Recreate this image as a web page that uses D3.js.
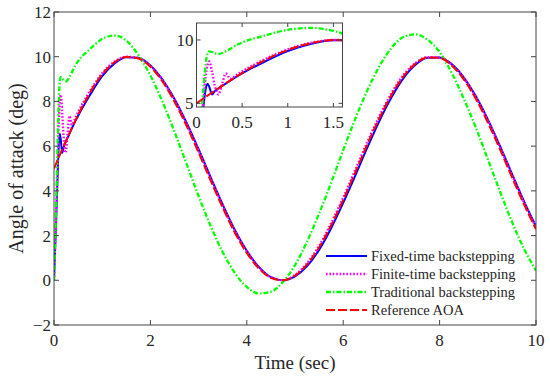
<!DOCTYPE html>
<html>
<head>
<meta charset="utf-8">
<script src="https://cdn.jsdelivr.net/npm/d3@7"></script>
<style>
  body { margin: 0; background: #fff; }
  svg { display: block; }
  text { font-family: "Liberation Serif", "Times New Roman", serif; fill: #262626; }
</style>
</head>
<body>
<div id="chart"></div>
<script>
    // time samples (sec), denser at the start to catch the transients
    var timeSec = [0, 0.04, 0.08, 0.1, 0.12, 0.14, 0.17, 0.2, 0.24, 0.28, 0.32, 0.37, 0.44, 0.5,
        0.75, 1, 1.25, 1.5, 1.75, 2, 2.25, 2.5, 2.75, 3, 3.25, 3.5, 3.75, 4, 4.25, 4.5, 4.75,
        5, 5.25, 5.5, 5.75, 6, 6.25, 6.5, 6.75, 7, 7.25, 7.5, 7.75, 8, 8.25, 8.5, 8.75,
        9, 9.25, 9.5, 9.75, 10];

    var fixedTime = [0, 2.4, 5.0, 6.1, 6.55, 6.3, 5.7, 5.95, 6.17, 6.36, 6.55, 6.79, 7.11, 7.36,
        8.30, 9.13, 9.69, 9.98, 9.95, 9.61, 8.98, 8.11, 7.05, 5.86, 4.61, 3.39, 2.26, 1.32, 0.60, 0.14, 0.00,
        0.17, 0.63, 1.36, 2.33, 3.46, 4.68, 5.93, 7.12, 8.17, 9.04, 9.64, 9.95, 9.97, 9.67, 9.08, 8.24,
        7.20, 6.02, 4.77, 3.54, 2.41];

    var finiteTime = [0, 2.6, 5.6, 7.1, 8.0, 8.3, 7.5, 6.4, 5.7, 6.5, 7.35, 6.95, 7.25, 7.52,
        8.48, 9.26, 9.77, 10.00, 9.94, 9.59, 8.95, 8.07, 7.00, 5.81, 4.56, 3.34, 2.22, 1.29, 0.57, 0.13, 0.00,
        0.24, 0.76, 1.54, 2.55, 3.70, 4.93, 6.18, 7.34, 8.36, 9.18, 9.72, 9.98, 9.96, 9.65, 9.05, 8.20,
        7.15, 5.97, 4.72, 3.49, 2.36];

    var traditional = [0, 3.0, 6.6, 8.1, 8.9, 9.1, 9.05, 8.95, 8.9, 8.95, 9.1, 9.3, 9.6, 9.8,
        10.35, 10.8, 10.95, 10.72, 10.08, 9.16, 7.99, 6.64, 5.21, 3.77, 2.43, 1.26, 0.33, -0.30, -0.59, -0.51, -0.08,
        0.68, 1.73, 2.99, 4.37, 5.82, 7.22, 8.49, 9.57, 10.39, 10.88, 11.0, 10.76, 10.21, 9.28, 8.13, 6.84,
        5.42, 3.99, 2.62, 1.42, 0.43];

    var referenceAoa = [5.00, 5.20, 5.40, 5.50, 5.60, 5.70, 5.85, 5.99, 6.19, 6.38, 6.57, 6.81, 7.13, 7.40,
        8.41, 9.21, 9.74, 9.99, 9.92, 9.55, 8.89, 7.99, 6.91, 5.71, 4.46, 3.25, 2.14, 1.22, 0.53, 0.11, 0.00,
        0.21, 0.71, 1.47, 2.46, 3.60, 4.83, 6.08, 7.25, 8.28, 9.12, 9.69, 9.97, 9.95, 9.61, 8.99, 8.12,
        7.06, 5.87, 4.62, 3.40, 2.28];

    var seriesNames = ["Fixed-time backstepping", "Finite-time backstepping", "Traditional backstepping", "Reference AOA"];
    var xTicks = [0, 2, 4, 6, 8, 10];
    var yTicks = [-2, 0, 2, 4, 6, 8, 10, 12];
    var insetXTicks = [0, 0.5, 1, 1.5];
    var insetYTicks = [5, 10];

    var w = 550, h = 382;
    var styles = [
        { color: "#0000ff", dash: null, width: 2 },
        { color: "#ff00ff", dash: "1.6,1.8", width: 2.4 },
        { color: "#00ff00", dash: "5,2,1.5,2", width: 2.3 },
        { color: "#ff0000", dash: "9,3", width: 2 }
    ];
    var allValues = [fixedTime, finiteTime, traditional, referenceAoa];
    var series = allValues.map(function (vals, i) {
        return {
            name: seriesNames[i],
            style: styles[i],
            points: timeSec.map(function (t, k) { return [t, vals[k]]; })
        };
    });

    var svg = d3.select("#chart").append("svg")
        .attr("width", w)
        .attr("height", h);

    var plot = { left: 54, right: 536, top: 12, bottom: 325 };
    var x = d3.scaleLinear().domain([0, 10]).range([plot.left, plot.right]);
    var y = d3.scaleLinear().domain([-2, 12]).range([plot.bottom, plot.top]);

    var defs = svg.append("defs");
    defs.append("clipPath").attr("id", "clipMain").append("rect")
        .attr("x", plot.left).attr("y", plot.top)
        .attr("width", plot.right - plot.left).attr("height", plot.bottom - plot.top);

    function drawLines(g, xs, ys) {
        var line = d3.line()
            .x(function (d) { return xs(d[0]); })
            .y(function (d) { return ys(d[1]); })
            .curve(d3.curveMonotoneX);
        g.selectAll("path.series")
            .data(series)
            .enter().append("path")
            .attr("class", "series")
            .attr("d", function (d) { return line(d.points); })
            .attr("fill", "none")
            .attr("stroke", function (d) { return d.style.color; })
            .attr("stroke-width", function (d) { return d.style.width; })
            .attr("stroke-dasharray", function (d) { return d.style.dash; });
    }

    // box with inward ticks on every side (matlab style)
    function drawBox(g, xs, ys, xt, yt, tickLen, fmt) {
        var r = { l: xs.range()[0], r: xs.range()[1], t: ys.range()[1], b: ys.range()[0] };
        g.append("rect")
            .attr("x", r.l).attr("y", r.t)
            .attr("width", r.r - r.l).attr("height", r.b - r.t)
            .attr("fill", "none").attr("stroke", "#444").attr("stroke-width", 1);
        xt.forEach(function (v) {
            g.append("line").attr("x1", xs(v)).attr("x2", xs(v)).attr("y1", r.b).attr("y2", r.b - tickLen)
                .attr("stroke", "#444");
            g.append("line").attr("x1", xs(v)).attr("x2", xs(v)).attr("y1", r.t).attr("y2", r.t + tickLen)
                .attr("stroke", "#444");
        });
        yt.forEach(function (v) {
            g.append("line").attr("x1", r.l).attr("x2", r.l + tickLen).attr("y1", ys(v)).attr("y2", ys(v))
                .attr("stroke", "#444");
            g.append("line").attr("x1", r.r).attr("x2", r.r - tickLen).attr("y1", ys(v)).attr("y2", ys(v))
                .attr("stroke", "#444");
        });
        g.selectAll("text.xt").data(xt).enter().append("text")
            .attr("class", "xt")
            .attr("x", function (d) { return xs(d); })
            .attr("y", r.b + 21)
            .attr("text-anchor", "middle")
            .style("font-size", "17px")
            .text(fmt);
        g.selectAll("text.yt").data(yt).enter().append("text")
            .attr("class", "yt")
            .attr("x", r.l - 3)
            .attr("y", function (d) { return ys(d) + 6; })
            .attr("text-anchor", "end")
            .style("font-size", "17px")
            .text(fmt);
    }

    var fmt = function (d) { return d < 0 ? "\u2212" + Math.abs(d) : String(d); };

    var main = svg.append("g");
    drawLines(main.append("g").attr("clip-path", "url(#clipMain)"), x, y);
    drawBox(main, x, y, xTicks, yTicks, 5, fmt);

    main.append("text")
        .attr("x", (plot.left + plot.right) / 2)
        .attr("y", 369)
        .attr("text-anchor", "middle")
        .style("font-size", "19px")
        .text("Time (sec)");
    main.append("text")
        .attr("transform", "translate(23," + ((plot.top + plot.bottom) / 2) + ") rotate(-90)")
        .attr("text-anchor", "middle")
        .style("font-size", "20px")
        .text("Angle of attack (deg)");

    // legend
    var legend = main.append("g");
    var rowY = [256, 274, 292, 310];
    series.forEach(function (s, i) {
        legend.append("line")
            .attr("x1", 326).attr("x2", 367)
            .attr("y1", rowY[i]).attr("y2", rowY[i])
            .attr("stroke", s.style.color)
            .attr("stroke-width", s.style.width)
            .attr("stroke-dasharray", s.style.dash);
        legend.append("text")
            .attr("x", 371).attr("y", rowY[i] + 5)
            .style("font-size", "14.5px")
            .text(s.name);
    });

    // inset zoom on the first 1.6 s
    var ix = d3.scaleLinear().domain([0, 1.6]).range([196.5, 342.5]);
    var iy = d3.scaleLinear().domain([4.71, 11.34]).range([107, 23]);
    defs.append("clipPath").attr("id", "clipInset").append("rect")
        .attr("x", 196.5).attr("y", 23).attr("width", 146).attr("height", 84);
    var inset = svg.append("g");
    inset.append("rect").attr("x", 196.5).attr("y", 23).attr("width", 146).attr("height", 84)
        .attr("fill", "#fff");
    drawLines(inset.append("g").attr("clip-path", "url(#clipInset)"), ix, iy);
    drawBox(inset, ix, iy, insetXTicks, insetYTicks, 4, fmt);
</script>
</body>
</html>
